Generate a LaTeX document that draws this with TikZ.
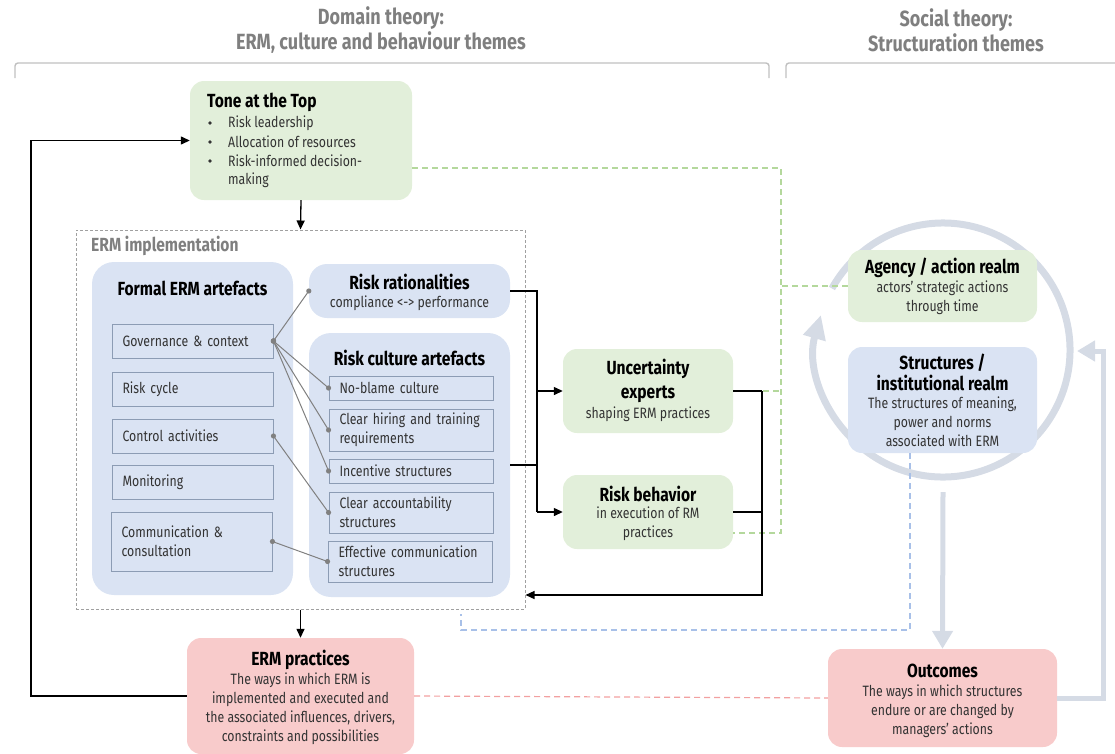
\documentclass[tikz,border=0pt]{standalone}
\usepackage{fontspec}
\setmainfont{Fira Sans}[FakeStretch=0.82]
\usetikzlibrary{arrows.meta}
\definecolor{hdrcol}{HTML}{7F7F7F}
\definecolor{brk}{HTML}{C0C0C0}
\definecolor{gfill}{HTML}{E2EFDA}
\definecolor{bfill}{HTML}{DAE3F3}
\definecolor{pfill}{HTML}{F8CBCB}
\definecolor{iborder}{HTML}{8C9CB4}
\definecolor{conn}{HTML}{808080}
\definecolor{circ}{HTML}{D5DBE5}
\definecolor{gdashc}{HTML}{B4D89C}
\definecolor{bdashc}{HTML}{A8C0E8}
\definecolor{rdashc}{HTML}{F2A0A0}
\definecolor{body}{HTML}{333333}
\definecolor{impldash}{HTML}{A0A0A0}
\begin{document}
\begin{tikzpicture}[x=1pt,y=-1pt,
  txt/.style={text=body,font=\fontsize{15}{19}\selectfont,inner sep=0pt,align=center},
  ttl/.style={text=black,font=\bfseries\fontsize{19}{21}\selectfont,inner sep=0pt,align=center},
  hdr/.style={text=hdrcol,font=\bfseries\fontsize{22}{25}\selectfont,inner sep=0pt,align=center},
  gbox/.style={fill=gfill,rounded corners=14pt,inner sep=0pt},
  bbox/.style={fill=bfill,rounded corners=22pt,inner sep=0pt},
  pbox/.style={fill=pfill,rounded corners=14pt,inner sep=0pt},
  ibox/.style={draw=iborder,fill=bfill,line width=0.9pt,inner xsep=10.5pt,inner ysep=0pt,
     align=left,text=body,font=\fontsize{15}{19}\selectfont},
  gconn/.style={draw=conn,line width=1pt},
  dot/.style={fill=conn},
  bul/.style={fill=body},
  blkline/.style={draw=black,line width=1.3pt},
  blkarrow/.style={draw=black,line width=1.3pt,-{Triangle[length=9pt,width=8pt]}},
  gdash/.style={draw=gdashc,line width=1.2pt,dash pattern=on 6pt off 4pt},
  bdash/.style={draw=bdashc,line width=1.2pt,dash pattern=on 6pt off 4pt},
  rdash/.style={draw=rdashc,line width=1.2pt,dash pattern=on 6pt off 4pt},
  thk/.style={draw=circ,line width=5pt},
]
\useasboundingbox (0,0) rectangle (1115,753);

% headers
\node[hdr] (hdom) at (381,30.5) {Domain theory:\\ERM, culture and behaviour themes};
\node[hdr] (hsoc) at (956,30.5) {Social theory:\\Structuration themes};
\draw[brk,line width=1.4pt,rounded corners=3pt] (15,78) -- (15,63) -- (769,63) -- (769,78);
\draw[brk,line width=1.4pt,rounded corners=3pt] (786,78) -- (786,63) -- (1120,63);

% circle
\draw[circ,line width=7pt,-{Triangle[length=24pt,width=22pt]}] (943,350) ++(209:127) arc[start angle=209,end angle=556,radius=127];

% Tone at the top
\node[gbox,minimum width=222pt,minimum height=119pt] (tone) at (301,140.5) {};
\node[ttl,anchor=west] (tonet) at (207,102) {Tone at the Top};
\foreach \yy/\tt in {123/Risk leadership,142/Allocation of resources,161/Risk-informed decision-} {
  \fill[bul] (210,\yy) circle (1.9);
  \node[txt,anchor=west] at (228,\yy) {\tt};
}
\node[txt,anchor=west] (tonel4) at (228,180) {making};

% ERM implementation
\node[draw=impldash,line width=1pt,dash pattern=on 3pt off 2pt,minimum width=449pt,minimum height=379pt,inner sep=0pt] (impl) at (300.5,419.5) {};
\node[text=hdrcol,font=\bfseries\fontsize{19}{21}\selectfont,inner sep=0pt,anchor=west] (implt) at (91,246) {ERM implementation};

\node[bbox,minimum width=201pt,minimum height=333pt] (formal) at (192.5,428.5) {};
\node[ttl] (formalt) at (192.5,288) {Formal ERM artefacts};
\node[ibox,minimum width=161pt,minimum height=34pt,text width=140pt] (gov) at (192.5,341) {Governance \& context};
\node[ibox,minimum width=161pt,minimum height=34pt,text width=140pt] (cyc) at (192.5,389) {Risk cycle};
\node[ibox,minimum width=161pt,minimum height=34pt,text width=140pt] (ctl) at (192.5,436) {Control activities};
\node[ibox,minimum width=161pt,minimum height=34pt,text width=140pt] (mon) at (192.5,482) {Monitoring};
\node[ibox,minimum width=161pt,minimum height=59pt,text width=140pt] (com) at (191.5,541.5) {Communication \&\\consultation};

\node[bbox,rounded corners=18pt,minimum width=201pt,minimum height=54pt] (rr) at (409.5,291) {};
\node[ttl] (rrt) at (409.5,282) {Risk rationalities};
\node[txt] (rrs) at (409.5,303) {compliance <-> performance};

\node[bbox,minimum width=201pt,minimum height=264pt] (rcult) at (409.5,465) {};
\node[ttl] (rcultt) at (409.5,358) {Risk culture artefacts};
\node[ibox,minimum width=164pt,minimum height=24pt,text width=143pt] (nb) at (411,388) {No-blame culture};
\node[ibox,minimum width=164pt,minimum height=42pt,text width=143pt] (hir) at (411,430) {Clear hiring and training\\requirements};
\node[ibox,minimum width=164pt,minimum height=24pt,text width=143pt] (inc) at (411,471) {Incentive structures};
\node[ibox,minimum width=164pt,minimum height=41pt,text width=143pt] (acc) at (411,512.5) {Clear accountability\\structures};
\node[ibox,minimum width=164pt,minimum height=41pt,text width=143pt] (eff) at (410,561.5) {Effective communication\\structures};

% grey connectors
\foreach \a/\b in {gov/rr,gov/nb,gov/hir,gov/inc,ctl/acc,com/eff} {
  \draw[gconn] (\a.east) -- (\b.west);
  \fill[dot] (\a.east) circle (2.6);
  \fill[dot] (\b.west) circle (2.6);
}

% uncertainty experts / risk behavior
\node[gbox,minimum width=170pt,minimum height=84pt] (ue) at (648,391) {};
\node[ttl,font=\bfseries\fontsize{19}{24}\selectfont] (uet) at (648,381) {Uncertainty\\experts};
\node[txt] (ues) at (648,414) {shaping ERM practices};
\node[gbox,minimum width=170pt,minimum height=74pt] (rb) at (648,512) {};
\node[ttl] (rbt) at (648,494) {Risk behavior};
\node[txt] (rbs) at (648,523.5) {in execution of RM\\practices};

% agency / structures
\node[gbox,minimum width=189pt,minimum height=72pt] (ag) at (942.5,286) {};
\node[ttl] (agt) at (942.5,268) {Agency / action realm};
\node[txt] (ags) at (942.5,297.5) {actors' strategic actions\\through time};
\node[bbox,rounded corners=14pt,minimum width=189pt,minimum height=106pt] (st) at (942.5,400) {};
\node[ttl] (stt) at (942.5,372.5) {Structures /\\institutional realm};
\node[txt] (sts) at (942.5,422) {The structures of meaning,\\power and norms\\associated with ERM};

% ERM practices / outcomes
\node[pbox,minimum width=227pt,minimum height=116pt] (erm) at (300.5,696) {};
\node[ttl] (ermt) at (300.5,660) {ERM practices};
\node[txt] (erms) at (300.5,709) {The ways in which ERM is\\implemented and executed and\\the associated influences, drivers,\\constraints and possibilities};
\node[pbox,minimum width=229pt,minimum height=98pt] (outc) at (942.5,698) {};
\node[ttl] (outct) at (942.5,671) {Outcomes};
\node[txt] (outcs) at (942.5,711) {The ways in which structures\\endure or are changed by\\managers' actions};

% coordinates
\coordinate (j1) at (537,391);
\coordinate (j2) at (537,512);
\coordinate (k1) at (762,391);
\coordinate (k2) at (762,595);
\coordinate (fb) at (31,696);
\coordinate (g1) at (781,168);
\coordinate (g3) at (781,533);
\coordinate (b1) at (910,630);
\coordinate (b2) at (461,630);
\coordinate (b3) at (461,614);
\coordinate (c1) at (943,492);
\coordinate (r1) at (1103,698);
\coordinate (r2) at (1077,351);

% dashed links
\draw[gdash] (tone.east |- g1) -- (g1) -- (g3) -- (rb.east |- g3);
\draw[gdash] (ue.east) -- (ue.east -| g1);
\draw[gdash] (ag.west) -- (ag.west -| g1);
\draw[bdash] (st.south -| b1) -- (b1) -- (b2) -- (b3);
\draw[rdash] (erm.east) -- (outc.west);

% black links
\draw[blkarrow] (tone.south) -- (impl.north);
\draw[blkarrow] (impl.south) -- (erm.north);
\draw[blkline] (rr.east) -| (j2);
\draw[blkline] (rcult.east) -- (rcult.east -| j1);
\draw[blkarrow] (j1) -- (ue.west);
\draw[blkarrow] (j2) -- (rb.west);
\draw[blkline] (ue.east) -- (k1);
\draw[blkline] (rb.east) -- (rb.east -| k1);
\draw[blkarrow] (k1) -- (k2) -- (k2 -| impl.east);
\draw[blkarrow] (erm.west) -- (fb) |- (tone.west);

% thick grey arrows
\draw[thk,-{Triangle[length=18pt,width=20pt]}] (c1) -- (outc.north);
\draw[thk,-{Triangle[length=18pt,width=20pt]}] (outc.east) -- (r1) |- (r2);
\end{tikzpicture}
\end{document}
